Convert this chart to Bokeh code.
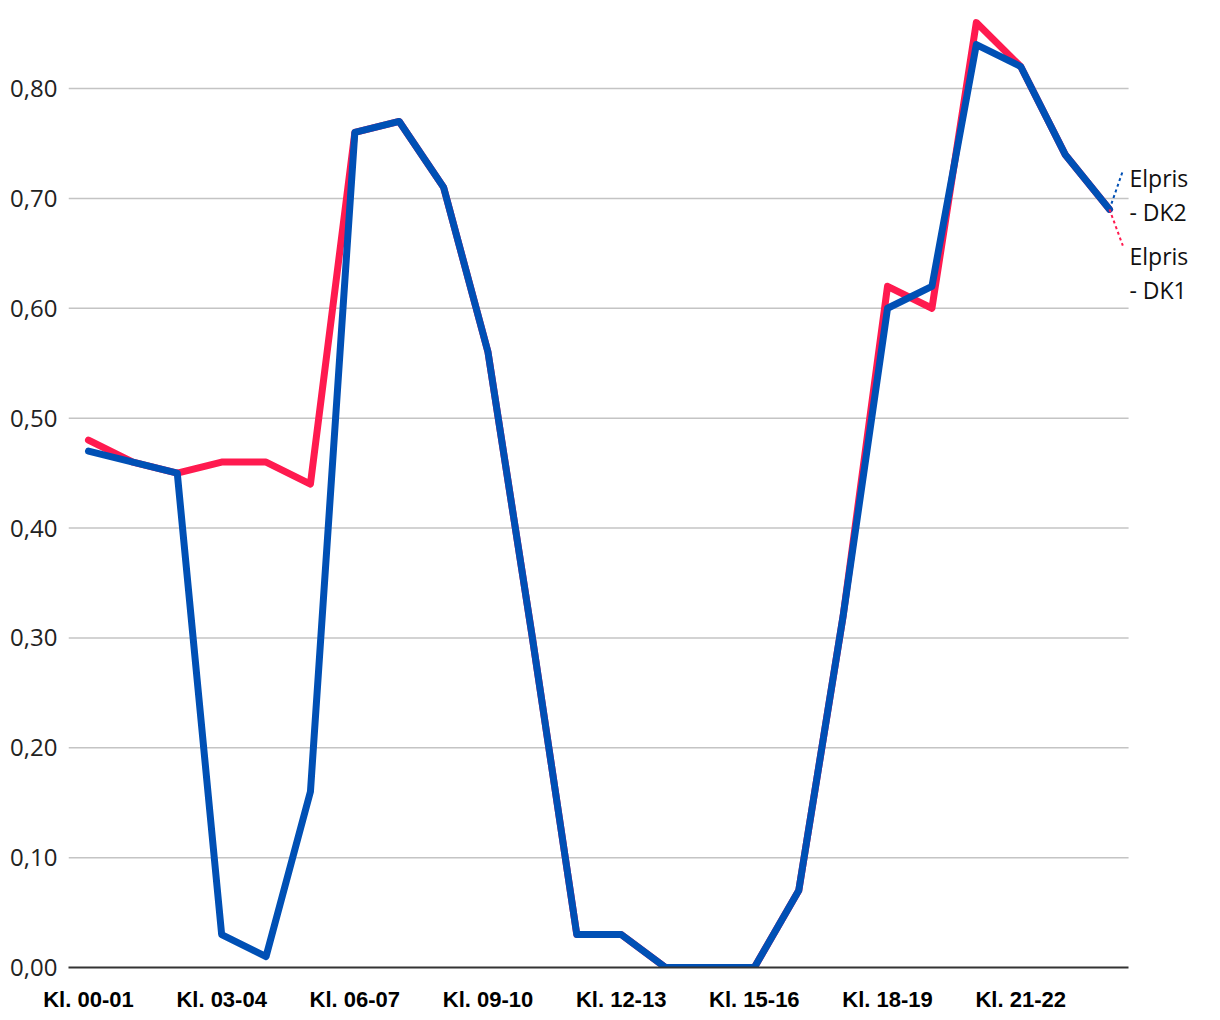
from bokeh.plotting import figure
from bokeh.models import FixedTicker, Range1d, CustomJSTickFormatter
from bokeh.core.properties import value
from bokeh.embed import file_html
from bokeh.resources import INLINE

hours = [f"Kl. {h:02d}-{h+1:02d}" for h in range(24)]
dk1 = [0.48, 0.46, 0.45, 0.46, 0.46, 0.44, 0.76, 0.77, 0.71, 0.56, 0.30, 0.03,
       0.03, 0.00, 0.00, 0.00, 0.07, 0.32, 0.62, 0.60, 0.86, 0.82, 0.74, 0.69]
dk2 = [0.47, 0.46, 0.45, 0.03, 0.01, 0.16, 0.76, 0.77, 0.71, 0.56, 0.30, 0.03,
       0.03, 0.00, 0.00, 0.00, 0.07, 0.32, 0.60, 0.62, 0.84, 0.82, 0.74, 0.69]
series_names = ["Elpris - DK1", "Elpris - DK2"]
y_ticks = [0.0, 0.1, 0.2, 0.3, 0.4, 0.5, 0.6, 0.7, 0.8]

RED = "#ff1a4f"
BLUE = "#0050b5"

x = list(range(len(hours)))
last = len(hours) - 1
x_lo = -0.45
x_hi_plot = last + 0.43

p = figure(width=1200, height=1017, output_backend="svg", toolbar_location=None,
           x_range=Range1d(x_lo, 25.05), y_range=Range1d(0, 0.871),
           min_border_left=68, min_border_right=0, min_border_top=10, min_border_bottom=50)
p.outline_line_color = None
p.background_fill_color = "white"

# horizontal grid lines limited to the plot area
grid_y = y_ticks[1:]
p.segment([x_lo] * len(grid_y), grid_y, [x_hi_plot] * len(grid_y), grid_y,
          line_color="#c4c4c4", line_width=1.5)

p.line(x, dk1, line_color=RED, line_width=7, line_join="round", line_cap="round")
p.line(x, dk2, line_color=BLUE, line_width=7, line_join="round", line_cap="round")

# leader lines to end labels
p.segment([last], [dk2[-1]], [last + 0.3], [dk2[-1] + 0.035], line_color=BLUE,
          line_width=2, line_dash="3 3")
p.segment([last], [dk1[-1]], [last + 0.3], [dk1[-1] - 0.033], line_color=RED,
          line_width=2, line_dash="3 3")

lab_x = last + 0.45
lab_texts, lab_y = [], []
for nm, yv, dy in [(series_names[1], dk2[-1], 0.0), (series_names[0], dk1[-1], -0.071)]:
    a, b = nm.split(" - ")
    lab_texts += [a, "- " + b]
    lab_y += [yv + 0.029 + dy, yv + 0.029 + dy - 0.031]
p.text([lab_x] * len(lab_texts), lab_y, text=lab_texts, text_font=value("Open Sans"),
       text_font_size="23px", text_color="#111111", text_baseline="alphabetic")

# axes
p.xaxis.ticker = FixedTicker(ticks=list(range(0, 24, 3)))
p.xaxis.major_label_overrides = {i: hours[i] for i in range(24)}
p.xaxis.bounds = (x_lo, x_hi_plot)
p.xaxis.major_label_text_font = "Liberation Sans"
p.xaxis.major_label_text_font_style = "bold"
p.xaxis.major_label_text_font_size = "22px"
p.xaxis.major_label_text_color = "#000000"
p.xaxis.major_label_standoff = 13
p.xaxis.major_tick_line_color = None
p.xaxis.minor_tick_line_color = None
p.xaxis.axis_line_color = "#333333"
p.xaxis.axis_line_width = 2

p.yaxis.ticker = FixedTicker(ticks=y_ticks)
p.yaxis.formatter = CustomJSTickFormatter(code="return tick.toFixed(2).replace('.', ',');")
p.yaxis.major_label_text_font = "Open Sans"
p.yaxis.major_label_text_font_size = "24px"
p.yaxis.major_label_text_color = "#222222"
p.yaxis.major_label_standoff = 5
p.yaxis.axis_line_color = None
p.yaxis.major_tick_line_color = None
p.yaxis.minor_tick_line_color = None

p.xgrid.grid_line_color = None
p.ygrid.grid_line_color = None

open("out.html", "w").write(file_html(p, INLINE))
